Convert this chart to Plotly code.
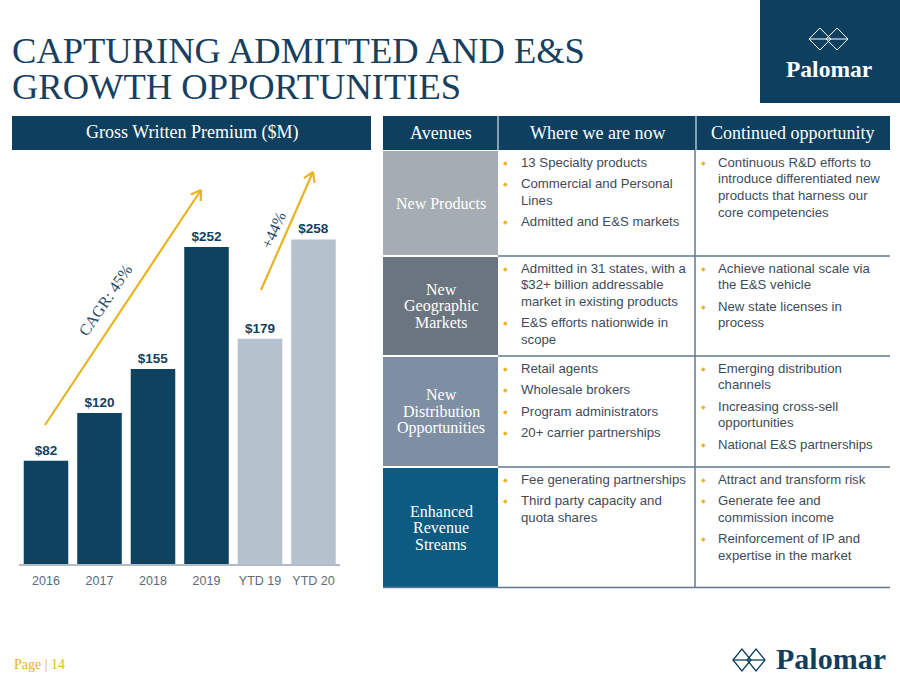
import math
import plotly.graph_objects as go

W, H = 900, 675

# ---------------- data ----------------
categories = ["2016", "2017", "2018", "2019", "YTD 19", "YTD 20"]
gwp_values = [82, 120, 155, 252, 179, 258]
period_kind = ["full", "full", "full", "full", "ytd", "ytd"]

table_headers = ["Avenues", "Where we are now", "Continued opportunity"]
avenues = [
    ["New Products"],
    ["New", "Geographic", "Markets"],
    ["New", "Distribution", "Opportunities"],
    ["Enhanced", "Revenue", "Streams"],
]
where_now = [
    [["13 Specialty products"], ["Commercial and Personal", "Lines"], ["Admitted and E&S markets"]],
    [["Admitted in 31 states, with a", "$32+ billion addressable", "market in existing products"],
     ["E&S efforts nationwide in", "scope"]],
    [["Retail agents"], ["Wholesale brokers"], ["Program administrators"], ["20+ carrier partnerships"]],
    [["Fee generating partnerships"], ["Third party capacity and", "quota shares"]],
]
opportunity = [
    [["Continuous R&D efforts to", "introduce differentiated new", "products that harness our", "core competencies"]],
    [["Achieve national scale via", "the E&S vehicle"], ["New state licenses in", "process"]],
    [["Emerging distribution", "channels"], ["Increasing cross-sell", "opportunities"], ["National E&S partnerships"]],
    [["Attract and transform risk"], ["Generate fee and", "commission income"],
     ["Reinforcement of IP and", "expertise in the market"]],
]

# ---------------- style ----------------
NAVY = "#0e3f5f"
TITLE_C = "#16405f"
GOLD = "#e8b422"
BODY_C = "#3e4b59"
SLATE = "#5f7a8e"
SERIF = "Liberation Serif, Times New Roman, serif"
SANS = "Liberation Sans, Arial, sans-serif"
kind_color = {"full": "#0d4261", "ytd": "#b5c1cc"}
row_colors = ["#a5acb3", "#6b7580", "#7e8fa3", "#0d5a83"]
row_tops = [151, 257, 357, 468]
row_bots = [255, 355, 466, 587]


def X(px):
    return px / W


def Y(py):
    return 1 - py / H


shapes = []
annotations = []


def rect(x0, y0, x1, y1, color):
    shapes.append(dict(type="rect", xref="paper", yref="paper", x0=X(x0), x1=X(x1),
                       y0=Y(y1), y1=Y(y0), fillcolor=color, line=dict(width=0), layer="below"))


def line(x0, y0, x1, y1, color, width=1.5):
    shapes.append(dict(type="line", xref="paper", yref="paper", x0=X(x0), x1=X(x1),
                       y0=Y(y0), y1=Y(y1), line=dict(color=color, width=width)))


def text(x, y, s, size, color, family=SANS, xanchor="left", angle=0, yanchor="middle", height=None):
    a = dict(xref="paper", yref="paper", x=X(x), y=Y(y), text=s, showarrow=False,
             xanchor=xanchor, yanchor=yanchor, textangle=angle,
             font=dict(size=size, color=color, family=family))
    if height is not None:
        a["height"] = height
    annotations.append(a)


def arrow(x0, y0, x1, y1, color, width=2.2, head=11, ang=32):
    line(x0, y0, x1, y1, color, width)
    a = math.atan2(y0 - y1, x0 - x1)
    for s in (-1, 1):
        b = a + s * math.radians(ang)
        line(x1, y1, x1 + head * math.cos(b), y1 + head * math.sin(b), color, width)


def logo_icon(cx, cy, w, h, color, lw=1):
    for dx in (-0.22, 0.22):
        c = cx + dx * w
        hw = 0.28 * w
        path = "M {} {} L {} {} L {} {} L {} {} Z".format(
            X(c - hw), Y(cy), X(c), Y(cy - h / 2), X(c + hw), Y(cy), X(c), Y(cy + h / 2))
        shapes.append(dict(type="path", xref="paper", yref="paper", path=path,
                           line=dict(color=color, width=lw)))
    line(cx - 0.5 * w, cy, cx + 0.5 * w, cy, color, lw)


# ---------------- title & logo ----------------
text(10, 49.5, "CAPTURING ADMITTED AND E&S", 36.5, TITLE_C, SERIF, height=34)
text(10, 86, "GROWTH OPPORTUNITIES", 36.5, TITLE_C, SERIF, height=34)

rect(760, 0, 900, 103, NAVY)
logo_icon(828.5, 39, 39, 22, "white", 1)
text(828.5, 69, "<b>Palomar</b>", 23.5, "white", SERIF, xanchor="center")

# ---------------- chart header ----------------
rect(12, 116, 371, 150, NAVY)
text(191.5, 133, "Gross Written Premium ($M)", 18, "white", SERIF, xanchor="center")

# ---------------- table ----------------
rect(383, 116, 890, 150, NAVY)
col_bounds = [383, 498, 696, 890]
for i, h in enumerate(table_headers):
    text((col_bounds[i] + col_bounds[i + 1]) / 2, 133, h, 18, "white", SERIF, xanchor="center")
for xb in (498, 696):
    line(xb, 116, xb, 150, "#d9e1e8", 1.2)

for r in range(4):
    rect(383, row_tops[r], 498, row_bots[r], row_colors[r])
    mid = (row_tops[r] + row_bots[r]) / 2
    n = len(avenues[r])
    for k, s in enumerate(avenues[r]):
        text(441, mid + (k - (n - 1) / 2) * 16.5, s, 16, "white", SERIF, xanchor="center")
    for col, (items, bx) in enumerate(((where_now[r], 506), (opportunity[r], 703))):
        y = row_tops[r] + 11
        for item in items:
            text(bx, y, "◆", 6, GOLD, "DejaVu Sans", xanchor="center")
            for j, ln in enumerate(item):
                text(bx + 13, y, ln, 13.2, BODY_C, SANS)
                y += 16.7 if j < len(item) - 1 else 21.5

for yb in (256, 356, 467):
    line(498, yb, 890, yb, SLATE, 1.5)
line(383, 587.5, 890, 587.5, SLATE, 1.5)
line(695, 150, 695, 587.5, SLATE, 1.5)

# ---------------- chart annotations ----------------
arrow(45, 425, 201, 190, GOLD)
arrow(261, 290, 313, 172, GOLD)
text(105, 300, "CAGR: 45%", 16, "#1f4a68", SERIF, xanchor="center", angle=-56)
text(273, 230, "+44%", 16, "#1f4a68", SERIF, xanchor="center", angle=-66)

# ---------------- footer ----------------
text(12, 664, "Page | 14", 14, GOLD, SERIF)
logo_icon(749, 660, 32, 22, NAVY, 1.3)
text(831, 658, "<b>Palomar</b>", 30, NAVY, SERIF, xanchor="center", height=30)

# ---------------- bars ----------------
fig = go.Figure()
fig.add_trace(go.Bar(
    x=categories, y=gwp_values,
    marker=dict(color=[kind_color[k] for k in period_kind], line=dict(width=0)),
    texttemplate="<b>$%{y}</b>", textposition="outside", cliponaxis=False,
    textfont=dict(size=13.5, color="#12405e", family=SANS),
    hoverinfo="skip",
))

y_base, y_top = 564, 150
px_per_unit = (564 - 247) / 252.0
fig.update_layout(
    width=W, height=H, autosize=False,
    margin=dict(l=0, r=0, t=0, b=0),
    paper_bgcolor="white", plot_bgcolor="rgba(0,0,0,0)",
    showlegend=False, bargap=0.168,
    xaxis=dict(domain=[X(19.25), X(340.25)], showline=True, linecolor="#b3bcc5", linewidth=1.5,
               showgrid=False, ticks="", ticklabelstandoff=4,
               tickfont=dict(size=12.5, color="#5b6b7b", family=SANS), fixedrange=True),
    yaxis=dict(domain=[Y(y_base), Y(y_top)], range=[0, (y_base - y_top) / px_per_unit],
               visible=False, fixedrange=True),
    shapes=shapes, annotations=annotations,
)

fig.write_html("out.html", config={"displayModeBar": False},
               post_script="document.body.style.margin='0px';document.body.style.overflow='hidden';")
